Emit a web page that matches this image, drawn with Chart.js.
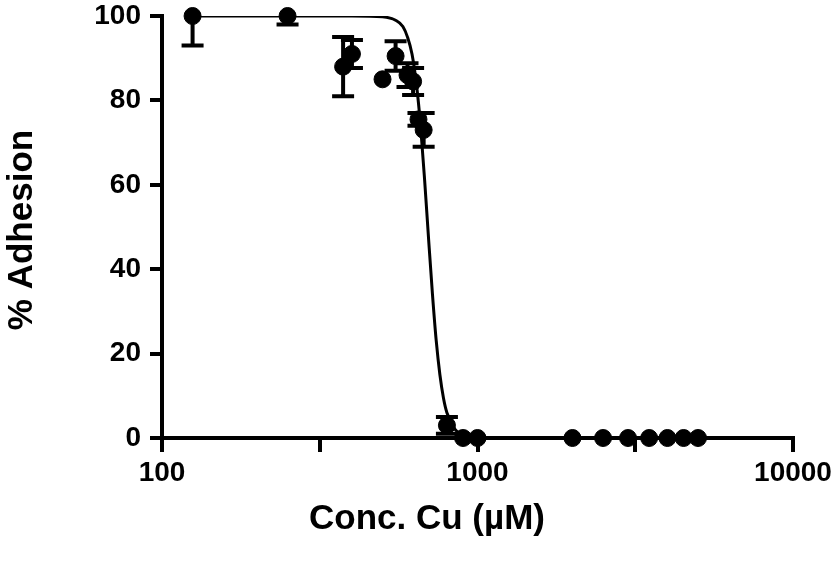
<!DOCTYPE html>
<html>
<head>
<meta charset="utf-8">
<title>Adhesion vs Cu</title>
<script src="https://cdn.jsdelivr.net/npm/chart.js@4/dist/chart.umd.min.js"></script>
<style>
    html, body { margin: 0; padding: 0; background: #fff; }
    #wrap { width: 832px; height: 562px; }
</style>
</head>
<body>
<div id="wrap"><canvas id="adhesionChart" width="832" height="562"></canvas></div>
<script>
// measured points (mean +/- error)
const concentrations = [125, 250, 375, 400, 500, 550, 600, 625, 650, 675, 800, 900, 1000, 2000, 2500, 3000, 3500, 4000, 4500, 5000];
const adhesion = [100, 100, 88, 91, 85, 90.5, 86, 84.5, 75.5, 73, 3, 0, 0, 0, 0, 0, 0, 0, 0, 0];
const errors = [7, 2, 7, 3.3, 0, 3.5, 2.8, 3.2, 1.5, 4, 2, 0, 0, 0, 0, 0, 0, 0, 0, 0];

// fitted dose-response curve
const curveConc = [125, 400, 500, 550, 580, 600, 620, 640, 660, 680, 700, 720, 740, 760, 780, 800, 850, 900, 1000, 5000];
const curveFit = [100, 100, 99.8, 99, 97.5, 95, 91, 84, 74, 61, 47, 34, 23, 15, 9.5, 6, 2, 0.6, 0, 0];

// axis ticks
const xTicks = [100, 316.2, 1000, 3162, 10000];
const xTickLabels = ['100', '', '1000', '', '10000'];
const yTicks = [0, 20, 40, 60, 80, 100];

const FONT = "'Liberation Sans', Arial, sans-serif";

// error bars with caps
const errorBars = {
    id: 'errorBars',
    afterDatasetsDraw(chart) {
        const { ctx, chartArea, scales: { x, y } } = chart;
        ctx.save();
        ctx.beginPath();
        ctx.rect(0, chartArea.top, chart.width, chart.height - chartArea.top);
        ctx.clip();
        ctx.strokeStyle = '#000';
        ctx.lineWidth = 4;
        ctx.lineCap = 'butt';
        concentrations.forEach((c, i) => {
            const e = errors[i];
            if (!e) return;
            const px = x.getPixelForValue(c);
            const top = y.getPixelForValue(adhesion[i] + e);
            const bot = y.getPixelForValue(adhesion[i] - e);
            ctx.beginPath();
            ctx.moveTo(px, top);
            ctx.lineTo(px, bot);
            ctx.moveTo(px - 11, top);
            ctx.lineTo(px + 11, top);
            ctx.moveTo(px - 11, bot);
            ctx.lineTo(px + 11, bot);
            ctx.stroke();
        });
        ctx.restore();
    }
};

// axis titles
const axisTitles = {
    id: 'axisTitles',
    afterDraw(chart) {
        const { ctx, chartArea } = chart;
        ctx.save();
        ctx.fillStyle = '#000';
        ctx.font = 'bold 35px ' + FONT;
        ctx.textAlign = 'center';
        ctx.textBaseline = 'middle';
        ctx.fillText('Conc. Cu (µM)', 427, 519);
        ctx.translate(22, 230);
        ctx.rotate(-Math.PI / 2);
        ctx.fillText('% Adhesion', 0, 0);
        ctx.restore();
    }
};

const axisStyle = {
    grid: { display: true, drawOnChartArea: false, drawTicks: true, lineWidth: 4, color: '#000' },
    border: { display: true, color: '#000', width: 4 }
};

new Chart(document.getElementById('adhesionChart'), {
    type: 'scatter',
    data: {
        datasets: [
            {
                label: 'Data',
                data: concentrations.map((c, i) => ({ x: c, y: adhesion[i] })),
                backgroundColor: '#000',
                borderColor: '#000',
                pointRadius: 8.5,
                pointHoverRadius: 8.5,
                showLine: false,
                clip: false,
                order: 0
            },
            {
                label: 'Fit',
                data: curveConc.map((c, i) => ({ x: c, y: curveFit[i] })),
                borderColor: '#000',
                borderWidth: 3,
                pointRadius: 0,
                showLine: true,
                cubicInterpolationMode: 'monotone',
                order: 1
            }
        ]
    },
    options: {
        responsive: false,
        animation: false,
        events: [],
        layout: { padding: { left: 0, right: 39, top: 16, bottom: 0 } },
        plugins: {
            legend: { display: false },
            tooltip: { enabled: false }
        },
        scales: {
            x: {
                type: 'logarithmic',
                min: 100,
                max: 10000,
                afterBuildTicks: axis => { axis.ticks = xTicks.map(v => ({ value: v })); },
                afterFit: s => {
                    s.height = 124;
                    s.paddingLeft = 0;
                    s.paddingRight = 0;
                },
                ticks: {
                    autoSkip: false,
                    maxRotation: 0,
                    padding: 4,
                    color: '#000',
                    font: { family: FONT, size: 28, weight: 'bold' },
                    callback: (v, i) => xTickLabels[i]
                },
                grid: { ...axisStyle.grid, tickLength: 14 },
                border: axisStyle.border
            },
            y: {
                min: 0,
                max: 100,
                afterBuildTicks: axis => { axis.ticks = yTicks.map(v => ({ value: v })); },
                afterFit: s => {
                    s.width = 162;
                    s.paddingTop = 0;
                    s.paddingBottom = 0;
                },
                ticks: {
                    padding: 9,
                    color: '#000',
                    font: { family: FONT, size: 28, weight: 'bold' }
                },
                grid: { ...axisStyle.grid, tickLength: 12 },
                border: axisStyle.border
            }
        }
    },
    plugins: [errorBars, axisTitles]
});
</script>
</body>
</html>
